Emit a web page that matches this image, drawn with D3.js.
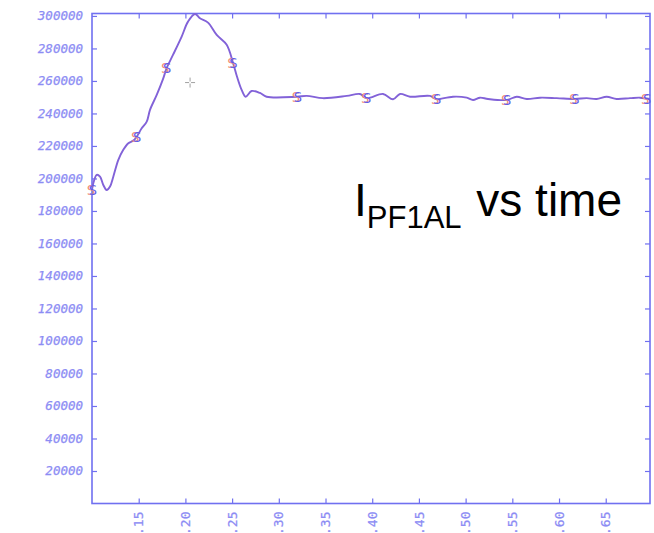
<!DOCTYPE html>
<html>
<head>
<meta charset="utf-8">
<script src="https://cdn.jsdelivr.net/npm/d3@7"></script>
<style>
  html, body { margin: 0; padding: 0; background: #fff; }
  svg { display: block; }
  .smark { text-shadow: -2px 0 0 #f09070; }
</style>
</head>
<body>
<svg id="chart" width="654" height="533"></svg>
<script>
// Coil current trace I_PF1AL over time
const times = [0.1000, 0.1014, 0.1050, 0.1086, 0.1121, 0.1157, 0.1193, 0.1228, 0.1282, 0.1335,
  0.1389, 0.1442, 0.1479, 0.1532, 0.1586, 0.1621, 0.1693, 0.1760, 0.1800, 0.1867,
  0.1960, 0.2028, 0.2103, 0.2156, 0.2242, 0.2335, 0.2442, 0.2510, 0.2552, 0.2602,
  0.2645, 0.2709, 0.2798, 0.2869, 0.3192, 0.3299, 0.3473, 0.3727, 0.3869, 0.3941,
  0.4116, 0.4223, 0.4298, 0.4405, 0.4619, 0.4691, 0.4726, 0.4865, 0.5012, 0.5079,
  0.5154, 0.5240, 0.5440, 0.5547, 0.5654, 0.5797, 0.5975, 0.6171, 0.6296, 0.6403,
  0.6510, 0.6617, 0.6760, 0.6867, 0.6974];
const current = [193000, 197000, 202200, 201100, 196000, 192900, 195000, 201100, 211400, 217600,
  221700, 223300, 225700, 230900, 235000, 242200, 251400, 261100, 268000, 276000,
  287300, 296500, 301200, 298600, 295900, 288300, 282200, 271100, 262700, 254500,
  250300, 253800, 252600, 250300, 250300, 250800, 249400, 250800, 252000, 249400,
  252000, 248700, 252000, 250300, 250800, 248700, 248900, 250300, 249700, 248300,
  249700, 248900, 248300, 250300, 248900, 249700, 249400, 248900, 249400, 248900,
  250300, 248900, 249400, 249700, 248900];

// "S" symbols placed along the trace
const markerTimes = [0.1005, 0.1480, 0.1800, 0.2510, 0.3200, 0.3940, 0.4690, 0.5440, 0.6170, 0.6940];
const markerValues = [193000, 225700, 268000, 271100, 250300, 249400, 248700, 248300, 248900, 248900];

const xTicks = [0.15, 0.20, 0.25, 0.30, 0.35, 0.40, 0.45, 0.50, 0.55, 0.60, 0.65];
const yTicks = [20000, 40000, 60000, 80000, 100000, 120000, 140000, 160000, 180000, 200000,
  220000, 240000, 260000, 280000, 300000];

const svg = d3.select("#chart");
const plotLeft = 92, plotRight = 650, plotTop = 13.5, plotBottom = 503.5;

const x = d3.scaleLinear().domain([0.1, 0.6974]).range([plotLeft, plotRight]);
const y = d3.scaleLinear().domain([0, 301500]).range([plotBottom, plotTop]);

const axisColor = "#7070f0";
const labelColor = "#8c8cf4";
const tickFont = "DejaVu Sans Mono, monospace";

// frame
svg.append("rect")
  .attr("x", plotLeft).attr("y", plotTop)
  .attr("width", plotRight - plotLeft).attr("height", plotBottom - plotTop)
  .attr("fill", "none").attr("stroke", axisColor).attr("stroke-width", 1.6);

// axes with inward ticks
const styleAxis = g => {
  g.select(".domain").remove();
  g.selectAll(".tick line").attr("stroke", axisColor).attr("stroke-width", 1.2);
};

svg.append("g").attr("transform", `translate(${plotLeft},0)`)
  .call(d3.axisRight(y).tickValues(yTicks).tickSize(5).tickFormat(""))
  .call(styleAxis);
svg.append("g").attr("transform", `translate(${plotRight},0)`)
  .call(d3.axisLeft(y).tickValues(yTicks).tickSize(5).tickFormat(""))
  .call(styleAxis);
svg.append("g").attr("transform", `translate(0,${plotBottom})`)
  .call(d3.axisTop(x).tickValues(xTicks).tickSize(5).tickFormat(""))
  .call(styleAxis);
svg.append("g").attr("transform", `translate(0,${plotTop})`)
  .call(d3.axisBottom(x).tickValues(xTicks).tickSize(5).tickFormat(""))
  .call(styleAxis);

// y labels
svg.append("g").selectAll("text").data(yTicks).join("text")
  .attr("x", plotLeft - 9).attr("y", d => y(d))
  .attr("dy", "0.36em")
  .attr("text-anchor", "end")
  .attr("fill", labelColor)
  .attr("stroke", labelColor).attr("stroke-width", 0.25)
  .attr("font-family", tickFont)
  .attr("font-size", 12.5)
  .attr("font-style", "oblique")
  .text(d => String(d));

// x labels, rotated (they run off the bottom edge of the page)
svg.append("g").selectAll("text").data(xTicks).join("text")
  .attr("transform", d => `translate(${x(d)},${plotBottom + 8}) rotate(-90)`)
  .attr("dy", "0.36em")
  .attr("text-anchor", "end")
  .attr("fill", labelColor)
  .attr("stroke", labelColor).attr("stroke-width", 0.25)
  .attr("font-family", tickFont)
  .attr("font-size", 13)
  .text(d => d3.format(".2f")(d).replace(/^0/, ""));

// trace
const pts = times.map((t, i) => [t, current[i]]);
svg.append("defs").append("clipPath").attr("id", "plotclip")
  .append("rect").attr("x", plotLeft).attr("y", plotTop - 1)
  .attr("width", plotRight - plotLeft).attr("height", plotBottom - plotTop + 1);

svg.append("path")
  .datum(pts)
  .attr("clip-path", "url(#plotclip)")
  .attr("fill", "none")
  .attr("stroke", "#8262d8")
  .attr("stroke-width", 1.9)
  .attr("stroke-linejoin", "round")
  .attr("d", d3.line().x(d => x(d[0])).y(d => y(d[1])).curve(d3.curveCatmullRom.alpha(0.5)));

// S symbols: blue glyph with a warm offset shadow
svg.append("g").selectAll("text")
  .data(markerTimes.map((t, i) => [t, markerValues[i]])).join("text")
  .attr("class", "smark")
  .attr("x", d => x(d[0]) + 0.5).attr("y", d => y(d[1])).attr("dy", "0.36em")
  .attr("text-anchor", "middle")
  .attr("fill", "#5e5ee6")
  .attr("font-family", tickFont).attr("font-size", 14)
  .text("S");

// cursor crosshair
const cx = x(0.2050), cy = y(259000);
const cross = svg.append("g").attr("stroke", "#a0a0a0").attr("stroke-width", 1);
cross.append("line").attr("x1", cx - 5).attr("x2", cx - 1).attr("y1", cy).attr("y2", cy);
cross.append("line").attr("x1", cx + 1).attr("x2", cx + 5).attr("y1", cy).attr("y2", cy);
cross.append("line").attr("x1", cx).attr("x2", cx).attr("y1", cy - 5).attr("y2", cy - 1);
cross.append("line").attr("x1", cx).attr("x2", cx).attr("y1", cy + 1).attr("y2", cy + 5);

// title
const title = svg.append("text")
  .attr("x", 354).attr("y", 216)
  .attr("fill", "#000")
  .attr("font-family", "Liberation Sans, Arial, sans-serif")
  .attr("font-size", 46);
title.append("tspan").text("I");
title.append("tspan").attr("font-size", 31).attr("dy", 12).text("PF1AL");
title.append("tspan").attr("dy", -12).attr("dx", 2).text(" vs time");
</script>
</body>
</html>
